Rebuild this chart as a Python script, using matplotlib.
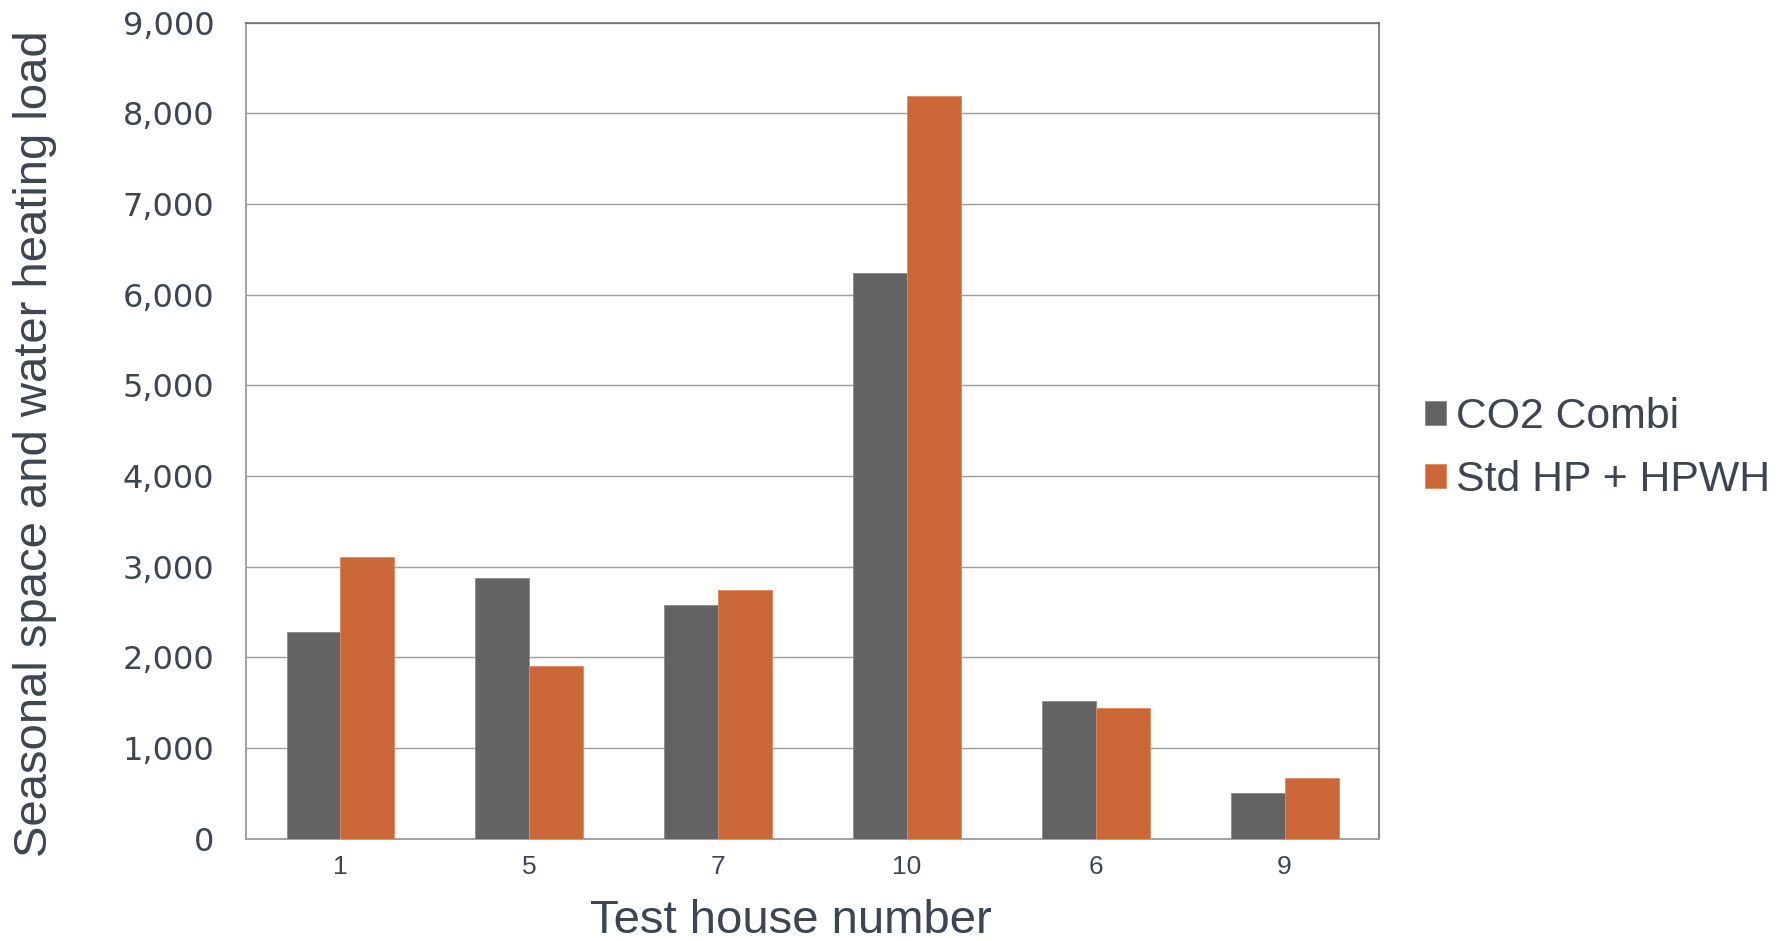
import numpy as np
import matplotlib
matplotlib.use('Agg')
import matplotlib.pyplot as plt
from matplotlib.ticker import FuncFormatter

# data
houses = ['1', '5', '7', '10', '6', '9']
co2_combi = [2280, 2880, 2580, 6240, 1515, 510]
std_hp_hpwh = [3110, 1905, 2745, 8190, 1445, 670]
series_names = ['CO2 Combi', 'Std HP + HPWH']

text_col = '#3d4452'
gray = '#636363'
orange = '#cb6637'
grid_col = '#9c9ca1'

fig = plt.figure(figsize=(17.87, 9.41), dpi=100)
ax = fig.add_axes([0.1377, 0.1086, 0.634, 0.8672])

x = np.arange(len(houses))
w = 1 / 3.5
ax.bar(x - w / 2, co2_combi, w, color=gray, edgecolor='#8a8a8a', linewidth=0.6, label=series_names[0], zorder=3)
ax.bar(x + w / 2, std_hp_hpwh, w, color=orange, edgecolor='#e08a60', linewidth=0.6, label=series_names[1], zorder=3)

ax.set_xlim(-0.5, len(houses) - 0.5)
ax.set_ylim(0, 9000)
ax.set_yticks(np.arange(0, 9001, 1000))
ax.yaxis.set_major_formatter(FuncFormatter(lambda v, p: f'{int(v):,}'))
ax.set_xticks(x)
ax.set_xticklabels(houses, fontsize=19, family='Liberation Sans', color=text_col)
for t in ax.get_yticklabels():
    t.set_family('DejaVu Sans')
    t.set_fontsize(23)
    t.set_color(text_col)
ax.tick_params(axis='both', length=0)
ax.tick_params(axis='y', pad=23)
ax.tick_params(axis='x', pad=12)

ax.grid(axis='y', color=grid_col, linewidth=1.0, zorder=0)
for s in ['left', 'bottom']:
    ax.spines[s].set_color('#9a9aa0')
    ax.spines[s].set_linewidth(1.3)
for s in ['top', 'right']:
    ax.spines[s].set_color('#6b6262')
    ax.spines[s].set_linewidth(1.1)

fig.text(0.0195, 0.529, 'Seasonal space and water heating load', rotation=90,
         ha='center', va='center', fontsize=34, color=text_col,
         family='Liberation Sans')
fig.text(0.4425, 0.0215, 'Test house number', ha='center', va='center',
         fontsize=34, color=text_col, family='Liberation Sans')

leg = fig.legend(loc='center left', bbox_to_anchor=(0.7975, 0.5232), frameon=False,
                 handlelength=0.49, handleheight=0.49, handletextpad=0.24,
                 labelspacing=0.54, borderpad=0, borderaxespad=0,
                 prop={'family': 'Liberation Sans', 'size': 30.8})
for t in leg.get_texts():
    t.set_color(text_col)

fig.savefig('out.png', dpi=100)
